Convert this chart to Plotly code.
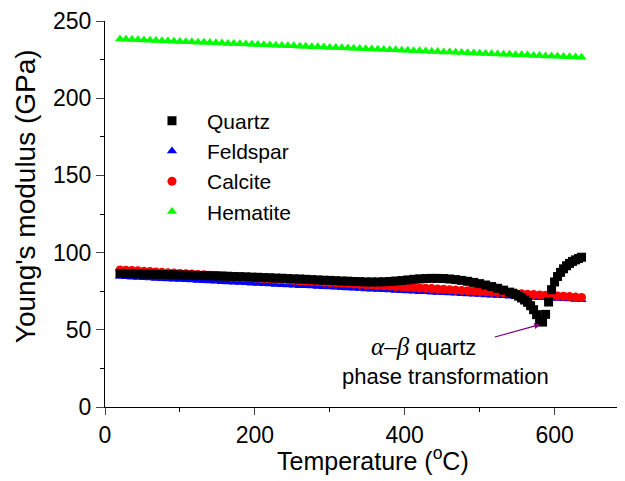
import plotly.graph_objects as go

# Temperatures (°C) shared by Feldspar, Calcite, Hematite
temperature = [20, 28, 36, 44, 52, 60, 68, 76, 84, 92, 100, 108, 116, 124, 132, 140, 148, 156,
               164, 172, 180, 188, 196, 204, 212, 220, 228, 236, 244, 252, 260, 268, 276, 284,
               292, 300, 308, 316, 324, 332, 340, 348, 356, 364, 372, 380, 388, 396, 404, 412,
               420, 428, 436, 444, 452, 460, 468, 476, 484, 492, 500, 508, 516, 524, 532, 540,
               548, 556, 564, 572, 580, 588, 596, 604, 612, 620, 628, 636]

feldspar = [84.5, 84.3, 84.1, 83.9, 83.7, 83.5, 83.3, 83.1, 82.9, 82.7, 82.5, 82.4, 82.2, 82.0,
            81.8, 81.6, 81.4, 81.2, 81.0, 80.8, 80.6, 80.4, 80.2, 80.0, 79.8, 79.6, 79.4, 79.2,
            79.0, 78.8, 78.6, 78.5, 78.3, 78.1, 77.9, 77.7, 77.5, 77.3, 77.1, 76.9, 76.7, 76.5,
            76.3, 76.1, 75.9, 75.7, 75.5, 75.3, 75.1, 74.9, 74.7, 74.6, 74.4, 74.2, 74.0, 73.8,
            73.6, 73.4, 73.2, 73.0, 72.8, 72.6, 72.4, 72.2, 72.0, 71.8, 71.6, 71.4, 71.2, 71.0,
            70.8, 70.7, 70.5, 70.3, 70.1, 69.9, 69.7, 69.5]

calcite = [88.8, 88.6, 88.4, 88.2, 87.9, 87.7, 87.5, 87.2, 87.0, 86.8, 86.5, 86.3, 86.1, 85.8,
           85.6, 85.4, 85.1, 84.9, 84.6, 84.4, 84.2, 83.9, 83.7, 83.5, 83.2, 83.0, 82.7, 82.5,
           82.3, 82.0, 81.8, 81.5, 81.3, 81.1, 80.8, 80.6, 80.4, 80.1, 79.9, 79.7, 79.4, 79.2,
           79.0, 78.7, 78.5, 78.3, 78.0, 77.8, 77.6, 77.3, 77.1, 76.9, 76.7, 76.4, 76.2, 76.0,
           75.7, 75.5, 75.3, 75.1, 74.8, 74.6, 74.4, 74.2, 73.9, 73.7, 73.5, 73.3, 73.0, 72.8,
           72.6, 72.4, 72.1, 71.9, 71.7, 71.5, 71.2, 71.0]

hematite = [238.3, 238.1, 238.0, 237.8, 237.7, 237.5, 237.4, 237.2, 237.1, 236.9, 236.8, 236.6,
            236.5, 236.3, 236.2, 236.0, 235.9, 235.7, 235.5, 235.4, 235.2, 235.1, 234.9, 234.8,
            234.6, 234.5, 234.3, 234.2, 234.0, 233.9, 233.7, 233.6, 233.4, 233.3, 233.1, 232.9,
            232.8, 232.6, 232.5, 232.3, 232.2, 232.0, 231.9, 231.7, 231.6, 231.4, 231.3, 231.1,
            231.0, 230.8, 230.7, 230.5, 230.3, 230.2, 230.0, 229.9, 229.7, 229.6, 229.4, 229.3,
            229.1, 229.0, 228.8, 228.7, 228.5, 228.4, 228.2, 228.1, 227.9, 227.7, 227.6, 227.4,
            227.3, 227.1, 227.0, 226.8, 226.7, 226.5]

# Quartz measured more densely through the alpha-beta transition
quartz_temperature = [20, 28, 36, 44, 52, 60, 68, 76, 84, 92, 100, 108, 116, 124, 132, 140, 148,
                      156, 164, 172, 180, 188, 196, 204, 212, 220, 228, 236, 244, 252, 260, 268,
                      276, 284, 292, 300, 308, 316, 324, 332, 340, 348, 356, 364, 372, 380, 388,
                      396, 404, 412, 420, 428, 436, 444, 452, 460, 468, 476, 484, 492, 500, 508,
                      516, 524, 532, 540, 544, 548, 552, 556, 560, 564, 568, 572, 576, 580, 584,
                      588, 592, 596, 600, 604, 608, 612, 616, 620, 624, 628, 632, 636]

quartz = [86.5, 86.4, 86.3, 86.2, 86.1, 86.0, 85.9, 85.8, 85.7, 85.6, 85.5, 85.4, 85.3, 85.2,
          85.1, 85.0, 84.9, 84.8, 84.7, 84.5, 84.4, 84.3, 84.1, 84.0, 83.8, 83.7, 83.5, 83.4,
          83.2, 83.0, 82.9, 82.7, 82.5, 82.3, 82.1, 82.0, 81.8, 81.6, 81.5, 81.3, 81.2, 81.0,
          81.0, 81.0, 81.1, 81.3, 81.6, 81.9, 82.3, 82.7, 83.0, 83.2, 83.3, 83.3, 83.2, 82.9,
          82.5, 82.0, 81.4, 80.7, 79.9, 79.0, 78.0, 76.9, 75.7, 74.4, 73.7, 72.8, 71.8, 70.6,
          69.3, 67.8, 65.6, 63.0, 59.8, 56.0, 55.0, 60.0, 68.0, 76.0, 81.0, 84.5, 87.2, 89.5,
          91.5, 93.0, 94.3, 95.3, 96.2, 97.0]

x_ticks = [0, 200, 400, 600]
y_ticks = [0, 50, 100, 150, 200, 250]

FONT = "Liberation Sans, Arial, sans-serif"
SERIF = "Liberation Serif, Times New Roman, serif"

fig = go.Figure()
# draw order: hematite, feldspar, calcite, quartz (quartz on top); legend order via legendrank
fig.add_trace(go.Scatter(x=temperature, y=hematite, mode="markers", name="Hematite", legendrank=4,
                         marker=dict(symbol="triangle-up", size=9, color="#00ff00")))
fig.add_trace(go.Scatter(x=temperature, y=feldspar, mode="markers", name="Feldspar", legendrank=2,
                         marker=dict(symbol="triangle-up", size=9, color="#0000ff")))
fig.add_trace(go.Scatter(x=temperature, y=calcite, mode="markers", name="Calcite", legendrank=3,
                         marker=dict(symbol="circle", size=9, color="#ff0000")))
fig.add_trace(go.Scatter(x=quartz_temperature, y=quartz, mode="markers", name="Quartz", legendrank=1,
                         marker=dict(symbol="square", size=9, color="black")))

fig.add_annotation(x=581, y=53.5, xref="x", yref="y", text="", showarrow=True,
                   ax=-47, ay=13, arrowhead=2, arrowsize=1, arrowwidth=1.2,
                   arrowcolor="#800080")
fig.add_annotation(x=425, y=39.3, xref="x", yref="y",
                   text=f"<span style='font-family:{SERIF};font-size:25px'><i>α</i>–<i>β</i></span> quartz",
                   showarrow=False, font=dict(family=FONT, size=22, color="black"))
fig.add_annotation(x=455, y=20, xref="x", yref="y",
                   text="phase transformation",
                   showarrow=False, font=dict(family=FONT, size=22, color="black"))

# axis titles
fig.add_annotation(x=-0.154, y=0.546, xref="paper", yref="paper", textangle=-90,
                   text="Young's modulus (GPa)", showarrow=False,
                   xanchor="center", yanchor="middle",
                   font=dict(family=FONT, size=28, color="black"))
fig.add_annotation(x=0.515, y=-0.136, xref="paper", yref="paper",
                   text="Temperature (<sup>o</sup>C)", showarrow=False,
                   xanchor="center", yanchor="middle",
                   font=dict(family=FONT, size=25, color="black"))

fig.update_layout(
    width=617, height=473,
    margin=dict(l=97, r=0, t=11, b=74),
    paper_bgcolor="white", plot_bgcolor="white",
    font=dict(family=FONT, size=23, color="black"),
    showlegend=True,
    legend=dict(x=0.0615, y=0.794, xanchor="left", yanchor="top",
                bgcolor="rgba(0,0,0,0)", font=dict(size=21, family=FONT),
                itemwidth=60, traceorder="normal"),
    xaxis=dict(range=[0, 694], tickvals=x_ticks, ticks="outside", ticklen=7, tickwidth=1.3,
               showline=True, linecolor="black", linewidth=1.3, showgrid=False, zeroline=False,
               minor=dict(dtick=100, ticks="outside", ticklen=4, tickwidth=1.3, tickcolor="black"),
               tickfont=dict(size=23), ticklabeloverflow="allow"),
    yaxis=dict(range=[0, 250], tickvals=y_ticks, ticks="outside", ticklen=8, tickwidth=1.3,
               showline=True, linecolor="black", linewidth=1.3, showgrid=False, zeroline=False,
               minor=dict(dtick=25, ticks="outside", ticklen=4, tickwidth=1.3, tickcolor="black"),
               tickfont=dict(size=23), ticklabeloverflow="allow"),
)

fig.write_html("out.html")
